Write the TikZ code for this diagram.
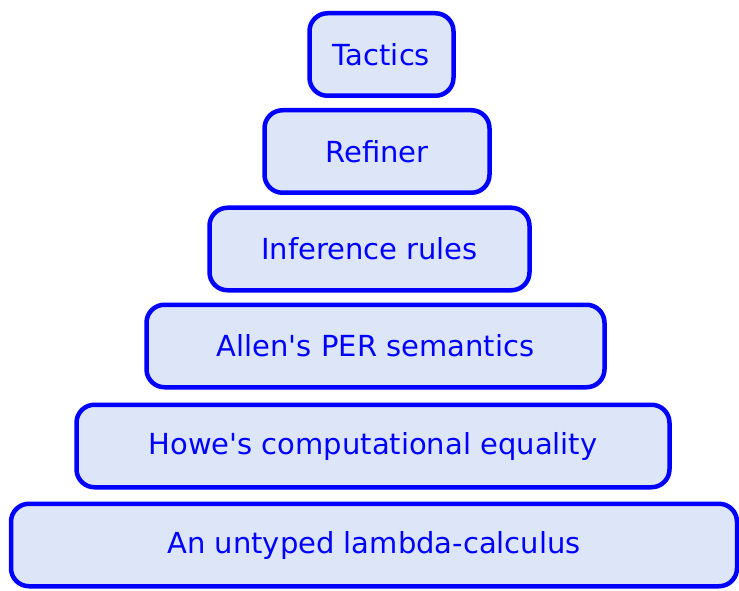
\documentclass[tikz,border=0pt]{standalone}
\usepackage{fontspec}
\setmainfont{DejaVu Sans}
\definecolor{layerfill}{HTML}{DDE6F8}
\definecolor{layerblue}{HTML}{0000FF}
\begin{document}
\begin{tikzpicture}[x=1pt,y=1pt,
  layer/.style={draw=layerblue, fill=layerfill, line width=4.5pt,
    rounded corners=18pt, minimum height=82.5pt, inner sep=0pt,
    text=layerblue, font=\fontsize{29}{34}\selectfont}]
\useasboundingbox (0,0) rectangle (739,590);
\node[layer, minimum width=144pt] (tac) at (381.5,535.5) {Tactics};
\node[layer, minimum width=225pt] (ref) at (377,438.5) {Refiner};
\node[layer, minimum width=320pt] (inf) at (369.5,341) {Inference rules};
\node[layer, minimum width=458pt] (per) at (375.5,244) {Allen\textquotesingle s PER semantics};
\node[layer, minimum width=593pt] (howe) at (373,144) {Howe\textquotesingle s computational equality};
\node[layer, minimum width=726pt] (lam) at (374,45) {An untyped lambda-calculus};
\end{tikzpicture}
\end{document}
